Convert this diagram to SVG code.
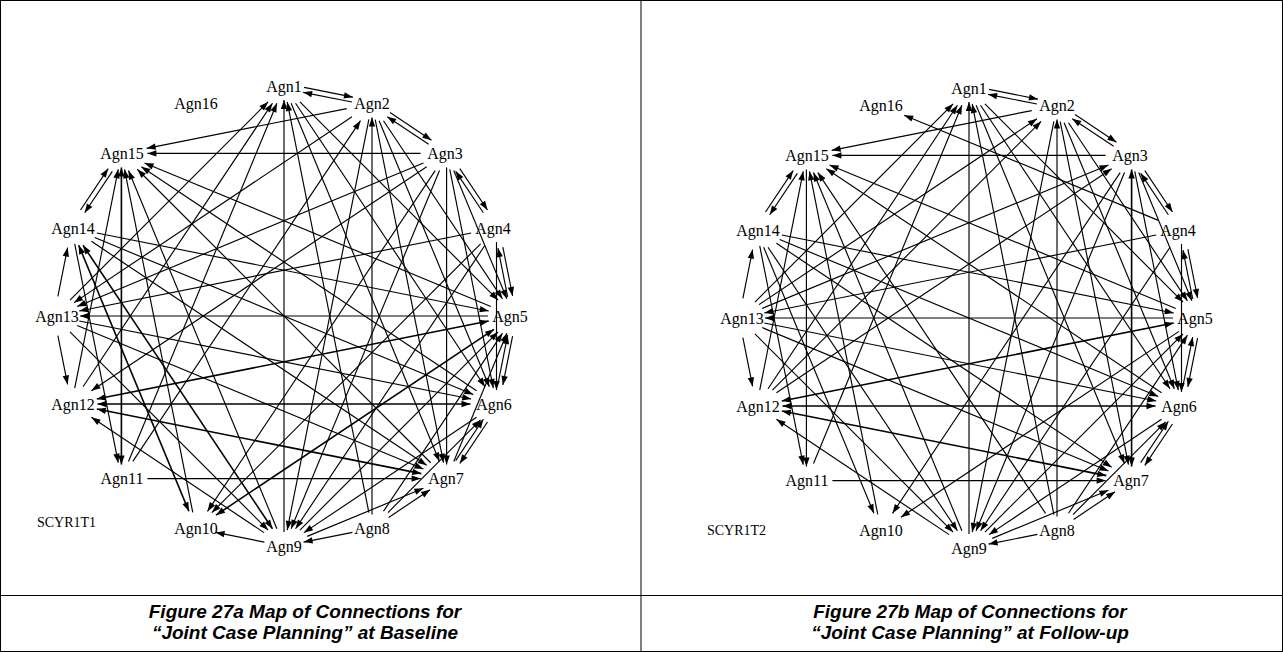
<svg xmlns="http://www.w3.org/2000/svg" width="1283" height="652" viewBox="0 0 1283 652">
<style>
.frame{stroke:#000;stroke-width:1;fill:none}
.e line{stroke:#000;stroke-width:1.15;fill:none}
.f{marker-end:url(#ah)}
.b{marker-start:url(#ah)}
.e line.fb{marker-start:url(#ah);marker-end:url(#ah);stroke-width:1.6}
.lbl{font-family:"Liberation Serif","Times New Roman",serif;font-size:16px;fill:#000;text-anchor:middle}
.tag{font-family:"Liberation Serif","Times New Roman",serif;font-size:14px;fill:#000}
.cap{font-family:"Liberation Sans",Arial,sans-serif;font-size:19px;font-weight:bold;font-style:italic;fill:#000;text-anchor:middle}
</style>
<defs>
<marker id="ah" viewBox="-10 -5 11 10" refX="0" refY="0" markerWidth="11" markerHeight="10" markerUnits="userSpaceOnUse" orient="auto-start-reverse"><path d="M0,0 L-9,-3.2 L-9,3.2 Z" fill="#000"/></marker>
</defs>
<rect class="frame" x="0.5" y="0.5" width="1282" height="651"/>
<line class="frame" x1="641" y1="0" x2="641" y2="652"/>
<line class="frame" x1="0" y1="595.5" x2="1283" y2="595.5"/>

<g id="connectors-a" class="e" transform="translate(284 316)">
<line class="f" transform="rotate(11.25)" x1="-24.9" y1="-228.1" x2="24.9" y2="-228.1"/>
<line class="b" transform="rotate(11.25)" x1="-24.9" y1="-223.1" x2="24.9" y2="-223.1"/>
<line class="f" transform="rotate(33.75)" x1="-24.9" y1="-228.1" x2="24.9" y2="-228.1"/>
<line class="b" transform="rotate(33.75)" x1="-24.9" y1="-223.1" x2="24.9" y2="-223.1"/>
<line class="f" transform="rotate(56.25)" x1="-24.9" y1="-228.1" x2="24.9" y2="-228.1"/>
<line class="b" transform="rotate(56.25)" x1="-24.9" y1="-223.1" x2="24.9" y2="-223.1"/>
<line class="b" transform="rotate(348.75)" x1="-102" y1="-191.2" x2="102" y2="-191.2"/>
<line class="b" transform="rotate(0)" x1="-136.6" y1="-162.6" x2="136.6" y2="-162.6"/>
<line class="b" transform="rotate(22.5)" x1="-187.4" y1="-88" x2="187.4" y2="-88"/>
<line class="b" transform="rotate(33.75)" x1="-201.6" y1="-44.9" x2="201.6" y2="-44.9"/>
<line class="f" transform="rotate(225)" x1="-207.5" y1="0" x2="207.5" y2="0"/>
<line class="f" transform="rotate(247.5)" x1="-193.9" y1="-88" x2="193.9" y2="-88"/>
<line class="f" transform="rotate(258.75)" x1="-174.9" y1="-127.8" x2="174.9" y2="-127.8"/>
<line class="fb" transform="rotate(270)" x1="-148.6" y1="-162.6" x2="148.6" y2="-162.6"/>
<line class="f" transform="rotate(281.25)" x1="-111.5" y1="-191.2" x2="111.5" y2="-191.2"/>
<line class="f" transform="rotate(303.75)" x1="-24.9" y1="-228.1" x2="24.9" y2="-228.1"/>
<line class="b" transform="rotate(303.75)" x1="-24.9" y1="-223.1" x2="24.9" y2="-223.1"/>
<line class="f" transform="rotate(315)" x1="-140.1" y1="-162.6" x2="140.1" y2="-162.6"/>
<line class="f" transform="rotate(303.75)" x1="-170.5" y1="-127.8" x2="170.5" y2="-127.8"/>
<line class="f" transform="rotate(292.5)" x1="-193.9" y1="-88" x2="193.9" y2="-88"/>
<line class="f" transform="rotate(270)" x1="-216" y1="0" x2="216" y2="0"/>
<line class="b" transform="rotate(78.75)" x1="-209.3" y1="-44.9" x2="209.3" y2="-44.9"/>
<line class="f" transform="rotate(45)" x1="-140.1" y1="-162.6" x2="140.1" y2="-162.6"/>
<line class="f" transform="rotate(56.25)" x1="-170.5" y1="-127.8" x2="170.5" y2="-127.8"/>
<line class="f" transform="rotate(67.5)" x1="-193.9" y1="-88" x2="193.9" y2="-88"/>
<line class="b" transform="rotate(326.25)" x1="-167.2" y1="-127.8" x2="167.2" y2="-127.8"/>
<line class="b" transform="rotate(90)" x1="-198.5" y1="-88" x2="198.5" y2="-88"/>
<line class="f" transform="rotate(303.75)" x1="-204.9" y1="-44.9" x2="204.9" y2="-44.9"/>
<line class="f" transform="rotate(56.25)" x1="-107.1" y1="-191.2" x2="107.1" y2="-191.2"/>
<line class="f" transform="rotate(67.5)" x1="-144" y1="-162.6" x2="144" y2="-162.6"/>
<line class="f" transform="rotate(78.75)" x1="-174.9" y1="-127.8" x2="174.9" y2="-127.8"/>
<line class="f" transform="rotate(101.25)" x1="-209.3" y1="-44.9" x2="209.3" y2="-44.9"/>
<line class="b" transform="rotate(337.5)" x1="-187.4" y1="-88" x2="187.4" y2="-88"/>
<line class="b" transform="rotate(326.25)" x1="-201.6" y1="-44.9" x2="201.6" y2="-44.9"/>
<line class="f" transform="rotate(67.5)" x1="-69.4" y1="-212.5" x2="69.4" y2="-212.5"/>
<line class="f" transform="rotate(78.75)" x1="-111.5" y1="-191.2" x2="111.5" y2="-191.2"/>
<line class="f" transform="rotate(90)" x1="-148.6" y1="-162.6" x2="148.6" y2="-162.6"/>
<line class="f" transform="rotate(112.5)" x1="-193.9" y1="-88" x2="193.9" y2="-88"/>
<line class="f" transform="rotate(123.75)" x1="-204.9" y1="-44.9" x2="204.9" y2="-44.9"/>
<line class="b" transform="rotate(348.75)" x1="-199.8" y1="-44.9" x2="199.8" y2="-44.9"/>
<line class="f" transform="rotate(78.75)" x1="-24.9" y1="-228.1" x2="24.9" y2="-228.1"/>
<line class="b" transform="rotate(78.75)" x1="-24.9" y1="-223.1" x2="24.9" y2="-223.1"/>
<line class="f" transform="rotate(90)" x1="-74" y1="-212.5" x2="74" y2="-212.5"/>
<line class="f" transform="rotate(135)" x1="-190" y1="-88" x2="190" y2="-88"/>
<line class="f" transform="rotate(123.75)" x1="-170.5" y1="-127.8" x2="170.5" y2="-127.8"/>
<line class="f" transform="rotate(180)" x1="-204" y1="0" x2="204" y2="0"/>
<line class="fb" transform="rotate(168.75)" x1="-199.8" y1="-44.9" x2="199.8" y2="-44.9"/>
<line class="f" transform="rotate(101.25)" x1="-24.9" y1="-228.1" x2="24.9" y2="-228.1"/>
<line class="b" transform="rotate(101.25)" x1="-24.9" y1="-223.1" x2="24.9" y2="-223.1"/>
<line class="b" transform="rotate(112.5)" x1="-69.4" y1="-212.5" x2="69.4" y2="-212.5"/>
<line class="b" transform="rotate(123.75)" x1="-107.1" y1="-191.2" x2="107.1" y2="-191.2"/>
<line class="b" transform="rotate(135)" x1="-140.1" y1="-162.6" x2="140.1" y2="-162.6"/>
<line class="fb" transform="rotate(146.25)" x1="-167.2" y1="-127.8" x2="167.2" y2="-127.8"/>
<line class="b" transform="rotate(191.25)" x1="-199.8" y1="-44.9" x2="199.8" y2="-44.9"/>
<line class="f" transform="rotate(22.5)" x1="-204.9" y1="0" x2="204.9" y2="0"/>
<line class="fb" transform="rotate(180)" x1="-186.5" y1="-88" x2="186.5" y2="-88"/>
<line class="f" transform="rotate(123.75)" x1="-24.9" y1="-228.1" x2="24.9" y2="-228.1"/>
<line class="b" transform="rotate(123.75)" x1="-24.9" y1="-223.1" x2="24.9" y2="-223.1"/>
<line class="b" transform="rotate(135)" x1="-65.5" y1="-212.5" x2="65.5" y2="-212.5"/>
<line class="f" transform="rotate(146.25)" x1="-103.8" y1="-191.2" x2="103.8" y2="-191.2"/>
<line class="b" transform="rotate(180)" x1="-136.6" y1="-162.6" x2="136.6" y2="-162.6"/>
<line class="fb" transform="rotate(191.25)" x1="-165.4" y1="-127.8" x2="165.4" y2="-127.8"/>
<line class="b" transform="rotate(202.5)" x1="-187.4" y1="-88" x2="187.4" y2="-88"/>
<line class="b" transform="rotate(213.75)" x1="-201.6" y1="-44.9" x2="201.6" y2="-44.9"/>
<line class="b" transform="rotate(157.5)" x1="-62.9" y1="-212.5" x2="62.9" y2="-212.5"/>
<line class="b" transform="rotate(146.25)" x1="-24.9" y1="-225.6" x2="24.9" y2="-225.6"/>
<line class="f" transform="rotate(191.25)" x1="-24.9" y1="-225.6" x2="24.9" y2="-225.6"/>
<line class="fb" transform="rotate(247.5)" x1="-144" y1="-162.6" x2="144" y2="-162.6"/>
<line class="fb" transform="rotate(236.25)" x1="-170.5" y1="-127.8" x2="170.5" y2="-127.8"/>
<line class="f" transform="rotate(281.25)" x1="-24.9" y1="-225.6" x2="24.9" y2="-225.6"/>
<line class="f" transform="rotate(11.25)" x1="-199.8" y1="-44.9" x2="199.8" y2="-44.9"/>
<line class="b" transform="rotate(258.75)" x1="-111.5" y1="-191.2" x2="111.5" y2="-191.2"/>
<line class="b" transform="rotate(258.75)" x1="-24.9" y1="-225.6" x2="24.9" y2="-225.6"/>
<line class="f" transform="rotate(213.75)" x1="-103.8" y1="-191.2" x2="103.8" y2="-191.2"/>
<line class="f" transform="rotate(168.75)" x1="-24.9" y1="-225.6" x2="24.9" y2="-225.6"/>
<line class="b" transform="rotate(225)" x1="-140.1" y1="-162.6" x2="140.1" y2="-162.6"/>
</g>

<g id="connectors-b" class="e" transform="translate(969 318)">
<line class="f" transform="rotate(11.25)" x1="-24.9" y1="-228.1" x2="24.9" y2="-228.1"/>
<line class="b" transform="rotate(11.25)" x1="-24.9" y1="-223.1" x2="24.9" y2="-223.1"/>
<line class="f" transform="rotate(33.75)" x1="-24.9" y1="-228.1" x2="24.9" y2="-228.1"/>
<line class="b" transform="rotate(33.75)" x1="-24.9" y1="-223.1" x2="24.9" y2="-223.1"/>
<line class="f" transform="rotate(56.25)" x1="-24.9" y1="-228.1" x2="24.9" y2="-228.1"/>
<line class="b" transform="rotate(56.25)" x1="-24.9" y1="-223.1" x2="24.9" y2="-223.1"/>
<line class="f" transform="rotate(303.75)" x1="-24.9" y1="-228.1" x2="24.9" y2="-228.1"/>
<line class="b" transform="rotate(303.75)" x1="-24.9" y1="-223.1" x2="24.9" y2="-223.1"/>
<line class="f" transform="rotate(78.75)" x1="-24.9" y1="-228.1" x2="24.9" y2="-228.1"/>
<line class="b" transform="rotate(78.75)" x1="-24.9" y1="-223.1" x2="24.9" y2="-223.1"/>
<line class="f" transform="rotate(101.25)" x1="-24.9" y1="-228.1" x2="24.9" y2="-228.1"/>
<line class="b" transform="rotate(101.25)" x1="-24.9" y1="-223.1" x2="24.9" y2="-223.1"/>
<line class="f" transform="rotate(123.75)" x1="-24.9" y1="-228.1" x2="24.9" y2="-228.1"/>
<line class="b" transform="rotate(123.75)" x1="-24.9" y1="-223.1" x2="24.9" y2="-223.1"/>
<line class="b" transform="rotate(348.75)" x1="-102" y1="-191.2" x2="102" y2="-191.2"/>
<line class="b" transform="rotate(0)" x1="-136.6" y1="-162.6" x2="136.6" y2="-162.6"/>
<line class="b" transform="rotate(22.5)" x1="-187.4" y1="-88" x2="187.4" y2="-88"/>
<line class="b" transform="rotate(33.75)" x1="-201.6" y1="-44.9" x2="201.6" y2="-44.9"/>
<line class="f" transform="rotate(236.25)" x1="-204.9" y1="-44.9" x2="204.9" y2="-44.9"/>
<line class="f" transform="rotate(247.5)" x1="-193.9" y1="-88" x2="193.9" y2="-88"/>
<line class="f" transform="rotate(258.75)" x1="-174.9" y1="-127.8" x2="174.9" y2="-127.8"/>
<line class="b" transform="rotate(270)" x1="-148.6" y1="-162.6" x2="148.6" y2="-162.6"/>
<line class="f" transform="rotate(281.25)" x1="-111.5" y1="-191.2" x2="111.5" y2="-191.2"/>
<line class="b" transform="rotate(22.5)" x1="-137.5" y1="-162.6" x2="137.5" y2="-162.6"/>
<line class="f" transform="rotate(315)" x1="-140.1" y1="-162.6" x2="140.1" y2="-162.6"/>
<line class="f" transform="rotate(303.75)" x1="-170.5" y1="-127.8" x2="170.5" y2="-127.8"/>
<line class="f" transform="rotate(292.5)" x1="-193.9" y1="-88" x2="193.9" y2="-88"/>
<line class="f" transform="rotate(270)" x1="-216" y1="0" x2="216" y2="0"/>
<line class="b" transform="rotate(78.75)" x1="-209.3" y1="-44.9" x2="209.3" y2="-44.9"/>
<line class="f" transform="rotate(45)" x1="-140.1" y1="-162.6" x2="140.1" y2="-162.6"/>
<line class="f" transform="rotate(56.25)" x1="-170.5" y1="-127.8" x2="170.5" y2="-127.8"/>
<line class="f" transform="rotate(67.5)" x1="-193.9" y1="-88" x2="193.9" y2="-88"/>
<line class="f" transform="rotate(326.25)" x1="-167.2" y1="-127.8" x2="167.2" y2="-127.8"/>
<line class="f" transform="rotate(315)" x1="-190" y1="-88" x2="190" y2="-88"/>
<line class="b" transform="rotate(90)" x1="-198.5" y1="-88" x2="198.5" y2="-88"/>
<line class="f" transform="rotate(56.25)" x1="-107.1" y1="-191.2" x2="107.1" y2="-191.2"/>
<line class="f" transform="rotate(67.5)" x1="-144" y1="-162.6" x2="144" y2="-162.6"/>
<line class="f" transform="rotate(78.75)" x1="-174.9" y1="-127.8" x2="174.9" y2="-127.8"/>
<line class="f" transform="rotate(101.25)" x1="-209.3" y1="-44.9" x2="209.3" y2="-44.9"/>
<line class="f" transform="rotate(337.5)" x1="-187.4" y1="-88" x2="187.4" y2="-88"/>
<line class="f" transform="rotate(326.25)" x1="-201.6" y1="-44.9" x2="201.6" y2="-44.9"/>
<line class="fb" transform="rotate(90)" x1="-148.6" y1="-162.6" x2="148.6" y2="-162.6"/>
<line class="f" transform="rotate(67.5)" x1="-69.4" y1="-212.5" x2="69.4" y2="-212.5"/>
<line class="f" transform="rotate(78.75)" x1="-111.5" y1="-191.2" x2="111.5" y2="-191.2"/>
<line class="f" transform="rotate(112.5)" x1="-193.9" y1="-88" x2="193.9" y2="-88"/>
<line class="f" transform="rotate(123.75)" x1="-204.9" y1="-44.9" x2="204.9" y2="-44.9"/>
<line class="b" transform="rotate(348.75)" x1="-199.8" y1="-44.9" x2="199.8" y2="-44.9"/>
<line class="f" transform="rotate(90)" x1="-74" y1="-212.5" x2="74" y2="-212.5"/>
<line class="f" transform="rotate(123.75)" x1="-170.5" y1="-127.8" x2="170.5" y2="-127.8"/>
<line class="f" transform="rotate(180)" x1="-204" y1="0" x2="204" y2="0"/>
<line class="fb" transform="rotate(168.75)" x1="-199.8" y1="-44.9" x2="199.8" y2="-44.9"/>
<line class="b" transform="rotate(123.75)" x1="-107.1" y1="-191.2" x2="107.1" y2="-191.2"/>
<line class="b" transform="rotate(135)" x1="-140.1" y1="-162.6" x2="140.1" y2="-162.6"/>
<line class="f" transform="rotate(146.25)" x1="-167.2" y1="-127.8" x2="167.2" y2="-127.8"/>
<line class="b" transform="rotate(191.25)" x1="-199.8" y1="-44.9" x2="199.8" y2="-44.9"/>
<line class="f" transform="rotate(22.5)" x1="-204.9" y1="0" x2="204.9" y2="0"/>
<line class="fb" transform="rotate(180)" x1="-186.5" y1="-88" x2="186.5" y2="-88"/>
<line class="b" transform="rotate(135)" x1="-65.5" y1="-212.5" x2="65.5" y2="-212.5"/>
<line class="f" transform="rotate(146.25)" x1="-103.8" y1="-191.2" x2="103.8" y2="-191.2"/>
<line class="b" transform="rotate(180)" x1="-136.6" y1="-162.6" x2="136.6" y2="-162.6"/>
<line class="fb" transform="rotate(191.25)" x1="-165.4" y1="-127.8" x2="165.4" y2="-127.8"/>
<line class="b" transform="rotate(202.5)" x1="-187.4" y1="-88" x2="187.4" y2="-88"/>
<line class="b" transform="rotate(213.75)" x1="-201.6" y1="-44.9" x2="201.6" y2="-44.9"/>
<line class="b" transform="rotate(157.5)" x1="-62.9" y1="-212.5" x2="62.9" y2="-212.5"/>
<line class="b" transform="rotate(146.25)" x1="-24.9" y1="-225.6" x2="24.9" y2="-225.6"/>
<line class="b" transform="rotate(258.75)" x1="-24.9" y1="-225.6" x2="24.9" y2="-225.6"/>
<line class="f" transform="rotate(281.25)" x1="-24.9" y1="-225.6" x2="24.9" y2="-225.6"/>
<line class="f" transform="rotate(213.75)" x1="-103.8" y1="-191.2" x2="103.8" y2="-191.2"/>
<line class="f" transform="rotate(11.25)" x1="-199.8" y1="-44.9" x2="199.8" y2="-44.9"/>
<line class="b" transform="rotate(258.75)" x1="-111.5" y1="-191.2" x2="111.5" y2="-191.2"/>
<line class="b" transform="rotate(247.5)" x1="-144" y1="-162.6" x2="144" y2="-162.6"/>
<line class="b" transform="rotate(236.25)" x1="-170.5" y1="-127.8" x2="170.5" y2="-127.8"/>
<line class="f" transform="rotate(168.75)" x1="-24.9" y1="-225.6" x2="24.9" y2="-225.6"/>
<line class="b" transform="rotate(225)" x1="-140.1" y1="-162.6" x2="140.1" y2="-162.6"/>
</g>

<g id="a-agn1"><text class="lbl" x="284" y="91.5">Agn1</text></g>
<g id="a-agn2"><text class="lbl" x="372" y="109">Agn2</text></g>
<g id="a-agn3"><text class="lbl" x="445" y="159">Agn3</text></g>
<g id="a-agn4"><text class="lbl" x="493" y="233.5">Agn4</text></g>
<g id="a-agn5"><text class="lbl" x="510" y="321.5">Agn5</text></g>
<g id="a-agn6"><text class="lbl" x="494" y="409.5">Agn6</text></g>
<g id="a-agn7"><text class="lbl" x="446" y="484">Agn7</text></g>
<g id="a-agn8"><text class="lbl" x="372" y="534">Agn8</text></g>
<g id="a-agn9"><text class="lbl" x="284" y="551.5">Agn9</text></g>
<g id="a-agn10"><text class="lbl" x="196" y="534">Agn10</text></g>
<g id="a-agn11"><text class="lbl" x="122" y="484">Agn11</text></g>
<g id="a-agn12"><text class="lbl" x="73" y="409.5">Agn12</text></g>
<g id="a-agn13"><text class="lbl" x="57" y="321.5">Agn13</text></g>
<g id="a-agn14"><text class="lbl" x="73" y="233.5">Agn14</text></g>
<g id="a-agn15"><text class="lbl" x="122" y="159">Agn15</text></g>
<g id="a-agn16"><text class="lbl" x="196" y="109">Agn16</text></g>
<g id="a-tag"><text class="tag" x="37" y="527">SCYR1T1</text></g>

<g id="b-agn1"><text class="lbl" x="969" y="93.5">Agn1</text></g>
<g id="b-agn2"><text class="lbl" x="1057" y="111">Agn2</text></g>
<g id="b-agn3"><text class="lbl" x="1130" y="161">Agn3</text></g>
<g id="b-agn4"><text class="lbl" x="1178" y="235.5">Agn4</text></g>
<g id="b-agn5"><text class="lbl" x="1195" y="323.5">Agn5</text></g>
<g id="b-agn6"><text class="lbl" x="1179" y="411.5">Agn6</text></g>
<g id="b-agn7"><text class="lbl" x="1131" y="486">Agn7</text></g>
<g id="b-agn8"><text class="lbl" x="1057" y="536">Agn8</text></g>
<g id="b-agn9"><text class="lbl" x="969" y="553.5">Agn9</text></g>
<g id="b-agn10"><text class="lbl" x="881" y="536">Agn10</text></g>
<g id="b-agn11"><text class="lbl" x="807" y="486">Agn11</text></g>
<g id="b-agn12"><text class="lbl" x="758" y="411.5">Agn12</text></g>
<g id="b-agn13"><text class="lbl" x="742" y="323.5">Agn13</text></g>
<g id="b-agn14"><text class="lbl" x="758" y="235.5">Agn14</text></g>
<g id="b-agn15"><text class="lbl" x="807" y="161">Agn15</text></g>
<g id="b-agn16"><text class="lbl" x="881" y="111">Agn16</text></g>
<g id="b-tag"><text class="tag" x="707" y="535">SCYR1T2</text></g>

<g id="caption-a"><text class="cap" x="305" y="618">Figure 27a Map of Connections for</text><text class="cap" x="305" y="639">“Joint Case Planning” at Baseline</text></g>
<g id="caption-b"><text class="cap" x="970" y="618">Figure 27b Map of Connections for</text><text class="cap" x="970" y="639">“Joint Case Planning” at Follow-up</text></g>
</svg>
